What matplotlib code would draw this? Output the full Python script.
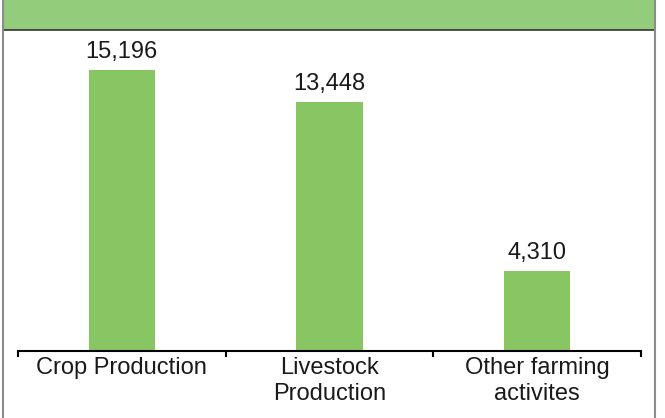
import matplotlib.pyplot as plt
from matplotlib.patches import Rectangle
from matplotlib.lines import Line2D

categories = ["Crop Production", "Livestock\nProduction", "Other farming\nactivites"]
values = [15196, 13448, 4310]
value_labels = ["15,196", "13,448", "4,310"]

plt.rcParams['font.family'] = ['Liberation Sans', 'DejaVu Sans']

W, H = 665, 418
fig = plt.figure(figsize=(W / 100, H / 100), dpi=100)

# green banner on top and the grey frame
fig.patches.append(Rectangle((3 / W, 1 - 30 / H), (655 - 3) / W, 30 / H,
                             transform=fig.transFigure, facecolor='#93cc7a',
                             edgecolor='none', zorder=0))
fig.lines.append(Line2D([3 / W, 655 / W], [1 - 30 / H] * 2, transform=fig.transFigure,
                        color='#333333', lw=1.2))
for xp in (3, 655):
    fig.lines.append(Line2D([xp / W] * 2, [0, 1], transform=fig.transFigure,
                            color='#8c8c8c', lw=1.5))

ax = fig.add_axes([18 / W, (H - 351) / H, (641 - 18) / W, (351 - 30) / H])
ax.patch.set_alpha(0)

x = list(range(len(categories)))
bars = ax.bar(x, values, width=0.32, color='#87c663', zorder=2)
ax.set_xlim(-0.5, len(categories) - 0.5)
ax.set_ylim(0, 17360)

for b, lab in zip(bars, value_labels):
    ax.annotate(lab, (b.get_x() + b.get_width() / 2, b.get_height()),
                xytext=(0, 9), textcoords='offset points',
                ha='center', va='baseline', fontsize=17, color='#1a1a1a')

for s in ('left', 'right', 'top'):
    ax.spines[s].set_visible(False)
ax.spines['bottom'].set_linewidth(1.5)
ax.set_yticks([])

# ticks at category boundaries, labels at centres
ax.set_xticks([i - 0.5 for i in range(len(categories) + 1)])
ax.set_xticklabels([])
ax.tick_params(axis='x', which='major', direction='out', length=4.5, width=1.5)
ax.set_xticks(x, minor=True)
ax.set_xticklabels(categories, minor=True, fontsize=17, color='#1a1a1a', linespacing=1.25)
ax.tick_params(axis='x', which='minor', length=0, pad=4.5)

fig.savefig('out.png', dpi=100)
